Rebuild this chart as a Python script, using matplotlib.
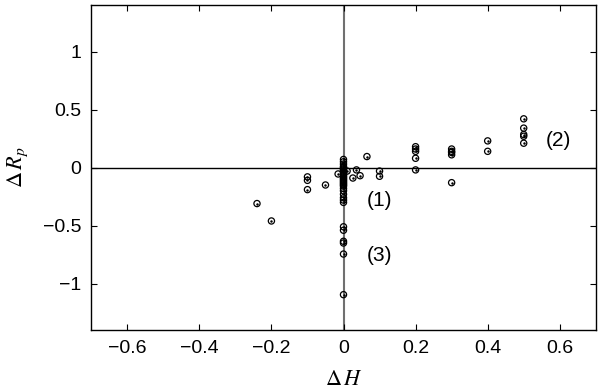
import matplotlib.pyplot as plt
import numpy as np

plt.rcParams['font.family'] = ['Liberation Sans', 'DejaVu Sans']
plt.rcParams['mathtext.fontset'] = 'stix'

# points off the dH = 0 line
dh_side = [-0.24, -0.2, -0.1, -0.1, -0.1, -0.05, -0.015, 0.01, 0.026, 0.036, 0.046, 0.065,
           0.1, 0.1,
           0.2, 0.2, 0.2, 0.2, 0.2,
           0.3, 0.3, 0.3, 0.3, 0.3,
           0.4, 0.4,
           0.5, 0.5, 0.5, 0.5, 0.5]
dr_side = [-0.31, -0.46, -0.08, -0.11, -0.19, -0.15, -0.055, -0.03, -0.09, -0.02, -0.07, 0.095,
           -0.03, -0.075,
           0.18, 0.16, 0.14, 0.08, -0.02,
           0.16, 0.14, 0.13, 0.11, -0.13,
           0.23, 0.14,
           0.42, 0.34, 0.285, 0.27, 0.21]

# points on dH = 0
dr_zero = [0.07, 0.05, 0.03, 0.01, 0.0, -0.01, -0.02, -0.03, -0.04, -0.05, -0.06, -0.07,
           -0.08, -0.09, -0.1, -0.11, -0.12, -0.13, -0.14, -0.15, -0.16, -0.18, -0.2,
           -0.23, -0.26, -0.28, -0.3, -0.51, -0.54, -0.635, -0.65, -0.745, -1.095]
dh_zero = [0.0] * len(dr_zero)

labels = ['(1)', '(2)', '(3)']
label_x = [0.065, 0.56, 0.065]
label_y = [-0.28, 0.23, -0.76]

fig = plt.figure(figsize=(6, 3.92), dpi=100)
ax = fig.add_axes([0.152, 0.158, 0.841, 0.829])

ax.axvline(0, color='#707070', linewidth=1.5, zorder=1)
ax.axhline(0, color='black', linewidth=1.0, zorder=1)

all_x = dh_side + dh_zero
all_y = dr_side + dr_zero
ax.scatter(all_x, all_y, s=20, facecolors='none',
           edgecolors='black', linewidths=0.9, zorder=3)
ax.scatter(all_x, all_y, s=0.6, color='black', zorder=4)

for t, x, y in zip(labels, label_x, label_y):
    ax.text(x, y, t, fontsize=15, va='center', ha='left')

ax.set_xlim(-0.7, 0.7)
ax.set_ylim(-1.4, 1.4)
ax.set_xticks([-0.6, -0.4, -0.2, 0, 0.2, 0.4, 0.6])
ax.set_xticklabels(['\u22120.6', '\u22120.4', '\u22120.2', '0', '0.2', '0.4', '0.6'])
ax.set_yticks([-1, -0.5, 0, 0.5, 1])
ax.set_yticklabels(['\u22121', '\u22120.5', '0', '0.5', '1'])
ax.tick_params(direction='in', top=True, right=True, length=4, width=0.8,
               labelsize=14, pad=7)
for s in ax.spines.values():
    s.set_linewidth(1.0)

ax.set_xlabel(r'$\Delta\,H$', fontsize=16, labelpad=9)
ax.set_ylabel(r'$\Delta\,R_p$', fontsize=16, labelpad=9)

fig.savefig('out.png', dpi=100)
